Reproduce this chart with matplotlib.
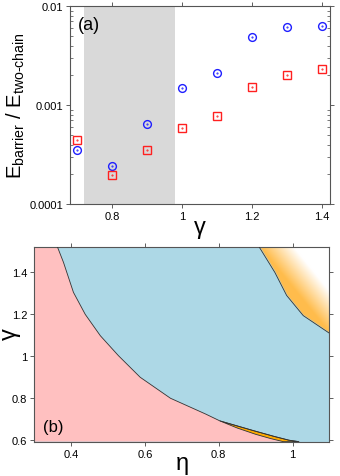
import numpy as np
import matplotlib
matplotlib.use("Agg")
import matplotlib.pyplot as plt
from matplotlib.patches import Polygon
from matplotlib.ticker import FixedLocator, FuncFormatter, LogLocator, NullFormatter

plt.rcParams["font.family"] = ["Liberation Sans", "DejaVu Sans"]
plt.rcParams["mathtext.fontset"] = "custom"
plt.rcParams["mathtext.rm"] = "Liberation Sans"
plt.rcParams["mathtext.it"] = "Liberation Sans:italic"

# panel (a): barrier energies vs gamma
gamma = [0.7, 0.8, 0.9, 1.0, 1.1, 1.2, 1.3, 1.4]
e_circle = [3.5e-4, 2.45e-4, 6.5e-4, 1.48e-3, 2.1e-3, 4.9e-3, 6.1e-3, 6.3e-3]
e_square = [4.4e-4, 1.95e-4, 3.5e-4, 5.9e-4, 7.8e-4, 1.53e-3, 2.0e-3, 2.3e-3]
shade = (0.72, 0.98)

# panel (b): phase boundaries in (eta, gamma)
b1_eta = [0.363, 0.379, 0.406, 0.438, 0.479, 0.528, 0.587, 0.669, 0.764, 0.803]
b1_gam = [1.52, 1.448, 1.305, 1.20, 1.098, 1.003, 0.90, 0.80, 0.725, 0.692]
# upper edge of the thin orange sliver (blue side)
up_eta = [0.803, 0.85, 0.895, 0.95, 0.99, 1.017]
up_gam = [0.692, 0.668, 0.645, 0.618, 0.600, 0.593]
# lower edge of the sliver (pink side)
lo_eta = [0.803, 0.85, 0.90, 0.94, 0.975]
lo_gam = [0.692, 0.658, 0.628, 0.608, 0.593]
# top-right boundary
b2_eta = [0.91, 0.952, 0.984, 1.029, 1.1]
b2_gam = [1.52, 1.40, 1.29, 1.194, 1.11]

xlim_b = (0.3, 1.1)
ylim_b = (0.593, 1.52)

fig = plt.figure(figsize=(3.4, 4.77), dpi=100)

# ---- (a)
ax1 = fig.add_axes([0.206, 0.570, 0.765, 0.415])
ax1.axvspan(*shade, color="#d9d9d9", lw=0, zorder=0)
ax1.plot(gamma, e_circle, "o", mfc="none", mec="#1f1fff", ms=5.6, mew=1.0)
ax1.plot(gamma, e_square, "s", mfc="none", mec="#ff2020", ms=6.0, mew=1.0)
ax1.plot(gamma, e_circle, ".", color="#1f1fff", ms=1)
ax1.plot(gamma, e_square, ".", color="#ff2020", ms=1)
ax1.set_yscale("log")
ax1.set_xlim(0.68, 1.423)
ax1.set_ylim(1e-4, 1e-2)
ax1.xaxis.set_major_locator(FixedLocator([0.8, 1.0, 1.2, 1.4]))
ax1.xaxis.set_major_formatter(FuncFormatter(lambda v, p: f"{v:g}"))
ax1.yaxis.set_major_locator(FixedLocator([1e-4, 1e-3, 1e-2]))
ax1.yaxis.set_major_formatter(FuncFormatter(lambda v, p: f"{v:.4f}".rstrip("0")))
ax1.yaxis.set_minor_locator(LogLocator(subs=np.arange(2, 10)))
ax1.yaxis.set_minor_formatter(NullFormatter())
ax1.set_xlabel("γ", fontsize=17)
ax1.xaxis.label.set_va("baseline")
ax1.xaxis.set_label_coords(0.5, -0.146)
ax1.set_ylabel(r"E$_{\text{barrier}}$ / E$_{\text{two-chain}}$", fontsize=14.5, labelpad=2)
ax1.text(0.03, 0.95, "(a)", transform=ax1.transAxes, fontsize=13, va="top")

# ---- (b)
ax2 = fig.add_axes([0.101, 0.072, 0.868, 0.4075])
ax2.set_facecolor("#add8e6")
pink_x = b1_eta + lo_eta[1:] + [xlim_b[0], xlim_b[0]]
pink_y = b1_gam + lo_gam[1:] + [ylim_b[0], ylim_b[1]]
ax2.add_patch(Polygon(np.column_stack([pink_x, pink_y]), closed=True,
                      fc="#ffc0c0", ec="none", zorder=1))
sliver_x = up_eta + lo_eta[::-1]
sliver_y = up_gam + lo_gam[::-1]
ax2.add_patch(Polygon(np.column_stack([sliver_x, sliver_y]), closed=True,
                      fc="#ffaa00", ec="#333333", lw=0.6, zorder=2))
ax2.plot(b1_eta + up_eta[1:], b1_gam + up_gam[1:], color="#333333", lw=0.6, zorder=3)

# gradient region in the top-right corner: orange near the boundary, fading to white
W, H = 295.0, 194.4   # axes size in px, so the fade is measured on screen
ex = np.linspace(0.9, 1.1, 300)
gy = np.linspace(1.1, 1.52, 300)
EX, GY = np.meshgrid(ex, gy)
X = (EX - xlim_b[0]) / (xlim_b[1] - xlim_b[0]) * W
Y = (GY - ylim_b[0]) / (ylim_b[1] - ylim_b[0]) * H
bx = (np.array(b2_eta) - xlim_b[0]) / (xlim_b[1] - xlim_b[0]) * W
by = (np.array(b2_gam) - ylim_b[0]) / (ylim_b[1] - ylim_b[0]) * H
dx, dy = bx[-1] - bx[0], by[-1] - by[0]
n = np.hypot(dx, dy)
dist = ((X - bx[0]) * (-dy) + (Y - by[0]) * dx) / n
dist = -dist if dist[-1, -1] < 0 else dist
t = np.clip(dist / 26.0, 0, 1)[..., None]
orange = np.array([1.0, 0.74, 0.30])
rgb = orange * (1 - t) + np.ones(3) * t
inside = X >= np.interp(Y, by[::-1], bx[::-1])
img = np.concatenate([rgb, inside.astype(float)[..., None]], axis=2)
ax2.imshow(img, extent=(0.9, 1.1, 1.1, 1.52), origin="lower",
           aspect="auto", zorder=2, interpolation="bilinear")
ax2.plot(b2_eta, b2_gam, color="#333333", lw=0.6, zorder=3)

ax2.set_xlim(*xlim_b)
ax2.set_ylim(*ylim_b)
ax2.xaxis.set_major_locator(FixedLocator([0.4, 0.6, 0.8, 1.0]))
ax2.xaxis.set_major_formatter(FuncFormatter(lambda v, p: f"{v:g}"))
ax2.yaxis.set_major_locator(FixedLocator([0.6, 0.8, 1.0, 1.2, 1.4]))
ax2.yaxis.set_major_formatter(FuncFormatter(lambda v, p: f"{v:g}"))
ax2.set_xlabel("η", fontsize=17)
ax2.xaxis.label.set_va("baseline")
ax2.xaxis.set_label_coords(0.5, -0.143)
ax2.set_ylabel("γ", fontsize=17)
ax2.yaxis.label.set_va("center")
ax2.yaxis.set_label_coords(-0.083, 0.56)
ax2.text(0.03, 0.04, "(b)", transform=ax2.transAxes, fontsize=12, va="bottom")

for ax in (ax1, ax2):
    ax.tick_params(which="major", direction="out", length=3, width=0.6,
                   labelsize=8, top=True, right=True, pad=2, color="#444444")
    ax.tick_params(which="minor", direction="in", length=2.5, width=0.5,
                   right=True, left=True, color="#444444")
    for s in ax.spines.values():
        s.set_linewidth(0.8)
        s.set_color("#555555")

fig.savefig("out.png", dpi=100)
